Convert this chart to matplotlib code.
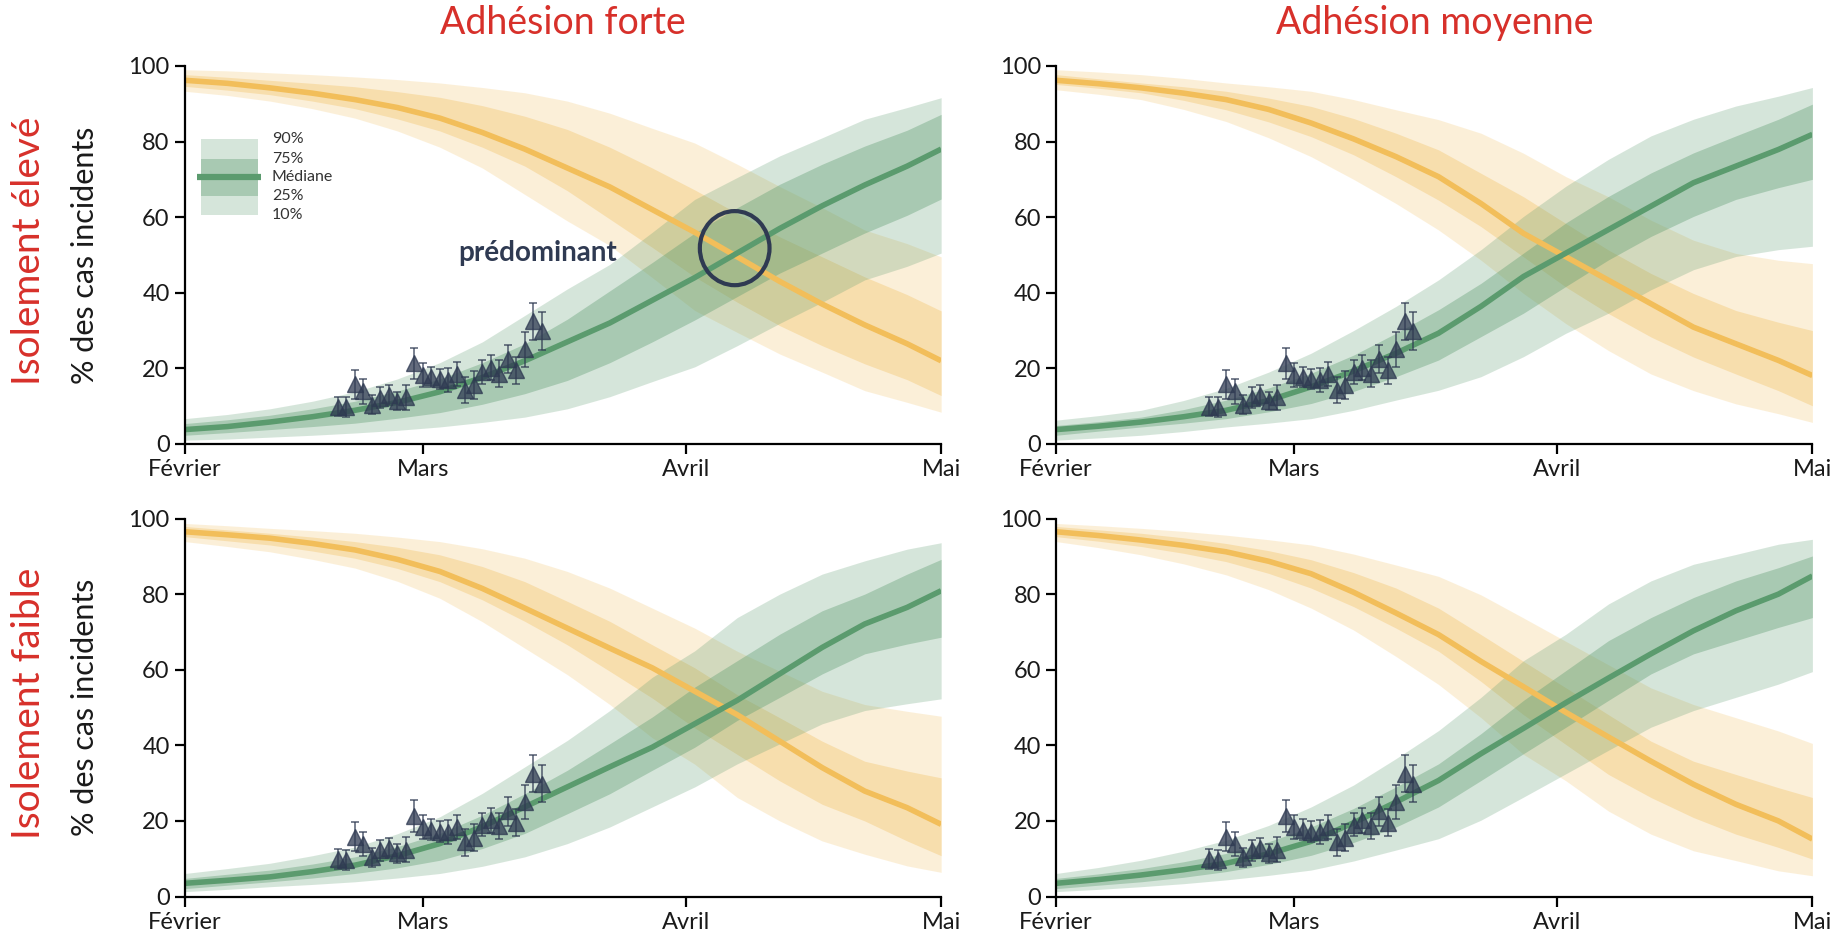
import numpy as np
import matplotlib
matplotlib.use("Agg")
import matplotlib.pyplot as plt
from matplotlib.patches import Ellipse, Rectangle

plt.rcParams['font.family'] = ['Lato', 'DejaVu Sans']

# days since 1 Feb (Feb = 28 days)
days = [0, 5, 10, 15, 20, 25, 30, 35, 40, 45, 50, 55, 60, 65, 70, 75, 80, 85, 89]
month_ticks = [0, 28, 59, 89]
month_labels = ["Février", "Mars", "Avril", "Mai"]

# variant share (%) - top left: adhésion forte / isolement élevé
tl_med = [3.8, 4.6, 5.8, 7.2, 8.9, 11, 13.8, 17.6, 22, 27, 32, 38, 44, 50.5, 57, 63, 68.5, 73.5, 78]
tl_p90 = [6.7, 7.8, 9.3, 11.3, 13.8, 17.2, 21.5, 27, 34, 41, 47.5, 56, 64.7, 70.5, 76.2, 81, 85.9, 89, 91.6]
tl_p75 = [5.4, 6.4, 7.6, 9.3, 11.3, 14, 17.2, 21.5, 26.5, 33, 40.5, 48, 55.8, 62.5, 68.7, 74, 78.8, 83, 87.2]
tl_p25 = [2.3, 3, 3.8, 4.6, 5.5, 6.8, 8.3, 10.5, 13.3, 16.8, 21.5, 27, 32.8, 39, 45.2, 50.5, 55.8, 60.5, 64.8]
tl_p10 = [1, 1.3, 1.8, 2.3, 2.9, 3.6, 4.5, 5.7, 7.1, 9.3, 12.5, 16.5, 20.4, 26, 31.9, 37.5, 43.4, 47, 50.5]

# top right: adhésion moyenne / isolement élevé
tr_med = [3.8, 4.7, 5.8, 7.2, 8.9, 11.5, 15.1, 19.3, 24, 29.3, 36.4, 44.3, 50.5, 56.7, 62.9, 69.1, 73.5, 77.9, 81.9]
tr_p90 = [6.3, 7.5, 8.9, 11.5, 14.7, 19, 24, 30, 36.4, 43.4, 51.4, 60.2, 68.2, 75.3, 81.5, 85.9, 89.4, 92, 94.3]
tr_p75 = [4.9, 5.9, 7.1, 9.1, 11.6, 14.8, 18.7, 23.5, 29.3, 35.5, 42.5, 50.5, 58.5, 65.5, 71.7, 77, 81.5, 85.9, 89.9]
tr_p25 = [2.3, 3.4, 4.5, 5.5, 6.7, 8.5, 10.7, 13.9, 17.8, 22.2, 28.4, 34.6, 41.7, 48.7, 54.9, 60.2, 64.7, 67.8, 70]
tr_p10 = [1, 1.6, 2.3, 3.3, 4.5, 5.5, 6.7, 8.9, 11.6, 14.2, 17.8, 23.1, 29.3, 34.6, 40.8, 46.1, 49.6, 51.4, 52.3]

# bottom left: adhésion forte / isolement faible
bl_med = [3.5, 4.3, 5.2, 6.6, 8.3, 10.8, 14, 18.5, 23.7, 29, 34.3, 39.5, 45.7, 51.9, 58.9, 65.9, 72.1, 76.5, 80.9]
bl_p90 = [6.1, 7.4, 8.8, 10.8, 13.1, 16.6, 21.1, 27.3, 34.3, 41.3, 49.2, 58, 65, 73.8, 80, 85.3, 88.8, 91.9, 93.6]
bl_p75 = [4.8, 5.9, 7, 8.6, 10.5, 13.2, 16.7, 21.5, 27.2, 33.4, 40.4, 47.5, 55.4, 62.4, 69.4, 75.6, 80, 85.3, 89.2]
bl_p25 = [2.1, 3, 3.9, 4.9, 6.1, 7.6, 9.6, 12.7, 16.7, 21.9, 27.2, 33.4, 39.5, 46.6, 52.7, 58.9, 64.2, 66.8, 68.6]
bl_p10 = [1.3, 1.9, 2.6, 3.2, 3.9, 4.9, 6.1, 8, 10.5, 14, 18.4, 23.7, 29, 35.1, 40.4, 45.7, 49.2, 51, 52.3]

# bottom right: adhésion moyenne / isolement faible
br_med = [3.5, 4.5, 5.7, 7.1, 8.8, 11.3, 14.6, 19.5, 25, 30.7, 37.8, 44.5, 51.3, 57.8, 64.2, 70.3, 75.6, 80, 84.8]
br_p90 = [6.1, 7.7, 9.6, 12, 14.9, 18.8, 23.7, 29.5, 36.5, 43.9, 52.7, 62.4, 69.4, 77.4, 83.5, 87.9, 90.5, 93.2, 94.5]
br_p75 = [4.8, 6, 7.4, 9.2, 11.4, 14.5, 18.4, 23.3, 29, 35.1, 43.1, 51.9, 59.8, 67.7, 73.8, 79.1, 83.5, 87, 90.1]
br_p25 = [2.1, 3, 3.9, 5.1, 6.6, 8.5, 10.9, 14.3, 18.4, 23.7, 30.7, 37.8, 44.8, 51.9, 58.9, 64.2, 67.7, 71.2, 73.8]
br_p10 = [1.3, 1.9, 2.6, 3.4, 4.4, 5.6, 7, 9.4, 12.3, 15.3, 20.2, 26.3, 32.5, 38.7, 44.8, 49.2, 52.7, 56.2, 59.5]

# observed proportions (same in all panels)
obs_days = list(range(18, 43))
obs_val = [9.9, 9.7, 15.8, 13.9, 10.4, 12.2, 12.9, 11.4, 12.4, 21.3, 18.3, 17.7, 17.2,
           17.0, 18.4, 14.3, 15.6, 19.0, 20.2, 18.6, 22.5, 19.5, 25.0, 32.5, 29.9]
obs_err = [2.6, 2.6, 3.8, 3.2, 2.5, 2.8, 2.7, 2.4, 3.3, 4.2, 3.2, 2.7, 2.7,
           3.2, 3.2, 3.5, 3.6, 3.1, 3.3, 3.5, 3.8, 3.6, 4.6, 4.9, 5.0]

col_titles = ["Adhésion forte", "Adhésion moyenne"]
row_titles = ["Isolement élevé", "Isolement faible"]

GREEN = "#5b9b6e"
YELLOW = "#f2be5a"
NAVY = "#2f3a52"
RED = "#d7302a"

panels = [
    (tl_med, tl_p90, tl_p75, tl_p25, tl_p10),
    (tr_med, tr_p90, tr_p75, tr_p25, tr_p10),
    (bl_med, bl_p90, bl_p75, bl_p25, bl_p10),
    (br_med, br_p90, br_p75, br_p25, br_p10),
]

fig = plt.figure(figsize=(18.4, 9.38), dpi=100)
lefts = [0.1005, 0.574]
bottoms = [0.5267, 0.0442]
w, h = 0.411, 0.403

axes = []
for i in range(4):
    r, c = divmod(i, 2)
    ax = fig.add_axes([lefts[c], bottoms[r], w, h])
    axes.append(ax)
    med, p90, p75, p25, p10 = [np.array(a, dtype=float) for a in panels[i]]

    # historical strain = complement of variant share
    ax.fill_between(days, 100 - p10, 100 - p90, color=YELLOW, alpha=0.23, lw=0)
    ax.fill_between(days, 100 - p25, 100 - p75, color=YELLOW, alpha=0.34, lw=0)
    ax.fill_between(days, p10, p90, color=GREEN, alpha=0.25, lw=0)
    ax.fill_between(days, p25, p75, color=GREEN, alpha=0.37, lw=0)
    ax.plot(days, 100 - med, color=YELLOW, lw=4, solid_capstyle='butt')
    ax.plot(days, med, color=GREEN, lw=4, solid_capstyle='butt')

    ax.errorbar(obs_days, obs_val, yerr=obs_err, fmt='^', ms=11, color=NAVY,
                alpha=0.75, elinewidth=1.2, capsize=3, capthick=1.2, zorder=5)

    ax.set_xlim(0, 89)
    ax.set_ylim(0, 100)
    ax.set_xticks(month_ticks)
    ax.set_xticklabels(month_labels)
    ax.set_yticks([0, 20, 40, 60, 80, 100])
    ax.spines['top'].set_visible(False)
    ax.spines['right'].set_visible(False)
    for s in ['left', 'bottom']:
        ax.spines[s].set_linewidth(1.6)
    ax.tick_params(labelsize=17, length=7, width=1.6, color='black', labelcolor='#1a1a1a', pad=4)
    ax.patch.set_alpha(0)

    if c == 0:
        ax.set_ylabel("% des cas incidents", fontsize=22, color='#1a1a1a')
        ax.yaxis.set_label_coords(-0.113, 0.5)

for c in range(2):
    fig.text(lefts[c] + w / 2, 0.975, col_titles[c], ha='center', va='center',
             fontsize=27, color=RED)
for r in range(2):
    fig.text(0.016, bottoms[r] + h / 2 + 0.004, row_titles[r], ha='center', va='center',
             rotation=90, fontsize=28, color=RED)

# key in the top-left panel
ax = axes[0]
tr = ax.transAxes
ax.add_patch(Rectangle((0.021, 0.607), 0.075, 0.199, transform=tr, color=GREEN, alpha=0.25, lw=0))
ax.add_patch(Rectangle((0.021, 0.655), 0.075, 0.100, transform=tr, color=GREEN, alpha=0.37, lw=0))
ax.plot([0.016, 0.100], [0.706, 0.706], transform=tr, color=GREEN, lw=4.5, solid_capstyle='butt')
for txt, yy in zip(["90%", "75%", "Médiane", "25%", "10%"], [0.806, 0.755, 0.706, 0.655, 0.607]):
    ax.text(0.115, yy, txt, transform=tr, fontsize=11.5, color='#333333', va='center', ha='left')

ax.text(41.5, 50.6, "prédominant", fontsize=20, fontweight='bold', color=NAVY,
        ha='center', va='center', zorder=6)
ax.add_patch(Ellipse((64.7, 51.8), 8.2, 19.6, fill=False, edgecolor=NAVY, lw=3, zorder=6))

fig.savefig("out.png", dpi=100, facecolor='white')
